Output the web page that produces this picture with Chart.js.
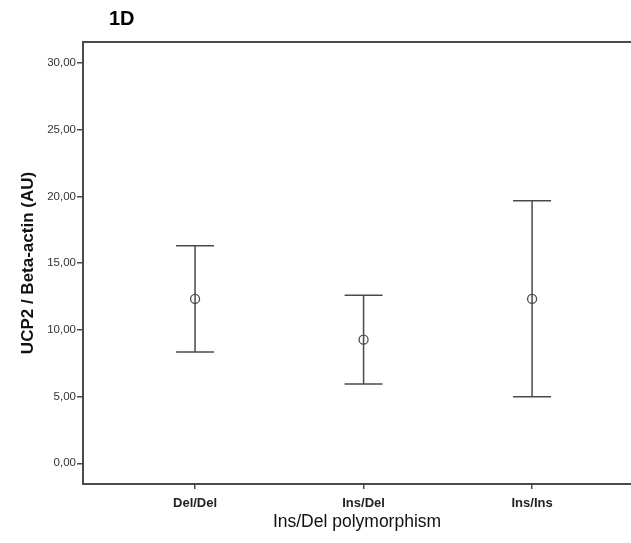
<!DOCTYPE html>
<html>
<head>
<meta charset="utf-8">
<script src="https://cdn.jsdelivr.net/npm/chart.js@4/dist/chart.umd.min.js"></script>
<style>
  html, body { margin: 0; padding: 0; background: #fff; }
  #wrap { width: 631px; height: 543px; position: relative; }
</style>
</head>
<body>
<div id="wrap"><canvas id="chart"></canvas></div>
<script>
// --- data ---
const groups = ['Del/Del', 'Ins/Del', 'Ins/Ins'];
const means = [12.32, 9.27, 12.32];
const lower = [8.34, 5.94, 4.99];
const upper = [16.31, 12.59, 19.68];
const yTicks = [0, 5, 10, 15, 20, 25, 30];

const ink = '#4a4a4a';
const font = "'Liberation Sans', Arial, sans-serif";

// whiskers: one line per group, broken by null points
const whiskerData = [];
groups.forEach((g, i) => {
    whiskerData.push({ x: i, y: lower[i] }, { x: i, y: upper[i] }, { x: i, y: null });
});
const capData = [];
groups.forEach((g, i) => {
    capData.push({ x: i, y: lower[i] }, { x: i, y: upper[i] });
});
const meanData = groups.map((g, i) => ({ x: i, y: means[i] }));

// top frame line + panel label
const framePlugin = {
    id: 'frame',
    afterDraw(chart) {
        const { ctx, chartArea } = chart;
        ctx.save();
        ctx.strokeStyle = ink;
        ctx.lineWidth = 2;
        ctx.beginPath();
        ctx.moveTo(chartArea.left, chartArea.top);
        ctx.lineTo(chartArea.right, chartArea.top);
        ctx.stroke();
        ctx.fillStyle = '#000';
        ctx.font = 'bold 20px ' + font;
        ctx.textBaseline = 'middle';
        ctx.fillText('1D', 109, 19);
        ctx.restore();
    }
};

new Chart(document.getElementById('chart'), {
    type: 'scatter',
    data: {
        datasets: [
            {
                type: 'line',
                data: whiskerData,
                borderColor: ink,
                borderWidth: 1.5,
                pointRadius: 0,
                spanGaps: false
            },
            {
                data: capData,
                pointStyle: 'line',
                pointRadius: 19,
                borderColor: ink,
                borderWidth: 1.5
            },
            {
                data: meanData,
                pointStyle: 'circle',
                pointRadius: 4.5,
                backgroundColor: '#fff',
                borderColor: ink,
                borderWidth: 1.3
            }
        ]
    },
    options: {
        responsive: true,
        maintainAspectRatio: false,
        animation: false,
        events: [],
        layout: { autoPadding: false, padding: { top: 42, right: 0, left: 0, bottom: 0 } },
        plugins: { legend: { display: false }, tooltip: { enabled: false } },
        scales: {
            x: {
                type: 'linear',
                min: -0.665,
                max: 2.587,
                afterBuildTicks: (axis) => { axis.ticks = groups.map((g, i) => ({ value: i })); },
                afterFit: (axis) => { axis.height = 59; },
                grid: { drawOnChartArea: false, tickLength: 5, color: ink, lineWidth: 1.5 },
                border: { color: ink, width: 2 },
                ticks: {
                    callback: (v) => groups[v],
                    color: '#222',
                    padding: 7,
                    maxRotation: 0,
                    font: { family: font, size: 13, weight: 'bold' }
                },
                title: {
                    display: true,
                    text: 'Ins/Del polymorphism',
                    color: '#111',
                    padding: { top: 0, bottom: 10 },
                    font: { family: font, size: 17.5 }
                }
            },
            y: {
                min: -1.55,
                max: 31.58,
                afterBuildTicks: (axis) => { axis.ticks = yTicks.map(v => ({ value: v })); },
                afterFit: (axis) => { axis.width = 83; },
                grid: { drawOnChartArea: false, tickLength: 6, color: ink, lineWidth: 1.5 },
                border: { color: ink, width: 2 },
                ticks: {
                    callback: (v) => v.toFixed(2).replace('.', ','),
                    color: '#333',
                    padding: 1,
                    font: { family: font, size: 11.5 }
                },
                title: {
                    display: true,
                    text: 'UCP2 / Beta-actin (AU)',
                    color: '#111',
                    padding: { top: 18, bottom: 0 },
                    font: { family: font, size: 17, weight: 'bold' }
                }
            }
        }
    },
    plugins: [framePlugin]
});
</script>
</body>
</html>
